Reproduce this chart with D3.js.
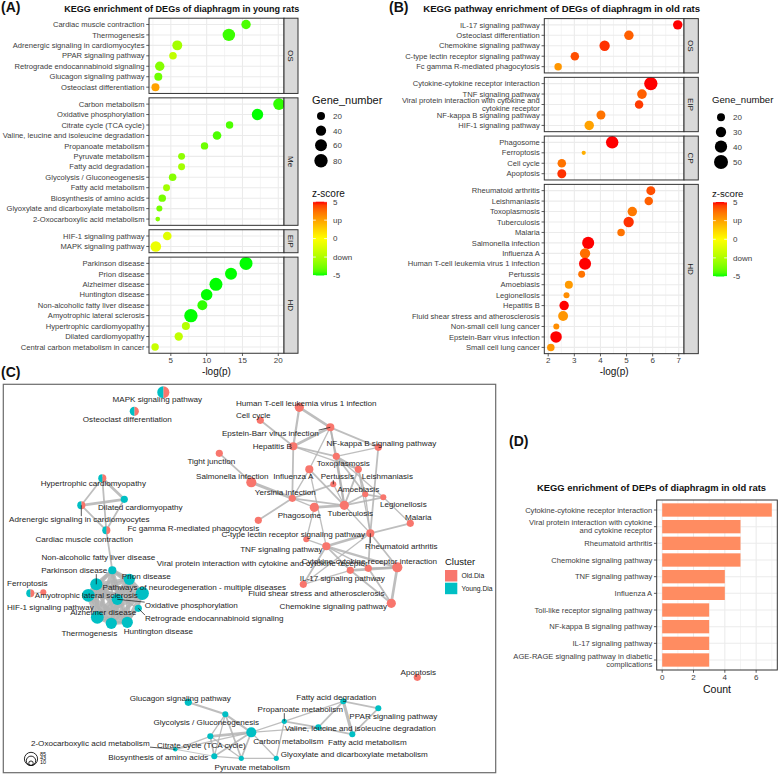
<!DOCTYPE html>
<html>
<head>
<meta charset="utf-8">
<script src="https://cdn.jsdelivr.net/npm/d3@7/dist/d3.min.js"></script>
<style>
html,body{margin:0;padding:0;background:#fff;}
svg{display:block;}
text{font-family:"Liberation Sans",Arial,Helvetica,sans-serif;}
</style>
</head>
<body>
<svg id="fig" width="778" height="775"></svg>
<script>
// ================= DATA =================
// ---- Panel A : young rats ----
const aTerms = [
 "Cardiac muscle contraction","Thermogenesis","Adrenergic signaling in cardiomyocytes","PPAR signaling pathway","Retrograde endocannabinoid signaling","Glucagon signaling pathway","Osteoclast differentiation",
 "Carbon metabolism","Oxidative phosphorylation","Citrate cycle (TCA cycle)","Valine, leucine and isoleucine degradation","Propanoate metabolism","Pyruvate metabolism","Fatty acid degradation","Glycolysis / Gluconeogenesis","Fatty acid metabolism","Biosynthesis of amino acids","Glyoxylate and dicarboxylate metabolism","2-Oxocarboxylic acid metabolism",
 "HIF-1 signaling pathway","MAPK signaling pathway",
 "Parkinson disease","Prion disease","Alzheimer disease","Huntington disease","Non-alcoholic fatty liver disease","Amyotrophic lateral sclerosis","Hypertrophic cardiomyopathy","Dilated cardiomyopathy","Central carbon metabolism in cancer"];
const aFacet = ["OS","OS","OS","OS","OS","OS","OS",
 "Me","Me","Me","Me","Me","Me","Me","Me","Me","Me","Me","Me",
 "EIP","EIP",
 "HD","HD","HD","HD","HD","HD","HD","HD","HD"];
const aLogP = [15.5,13.1,5.9,5.3,3.45,3.25,2.85, 20.1,17.1,13.2,11.45,9.7,6.5,6.5,5.25,4.4,3.8,3.4,3.17, 4.5,2.9, 15.5,13.4,11.3,10.0,9.4,7.8,7.1,6.1,2.8];
const aGenes = [32,66,37,17,32,20,20, 55,53,16,25,16,13,13,17,13,16,8,3, 25,44, 74,61,74,55,37,80,20,23,16];
const aZ = [-4.5,-4.7,-2.8,-2.0,-3.5,-4.0,2.5, -4.8,-5,-4.5,-4.5,-4.0,-3.3,-2.8,-3.5,-2.8,-3.8,-3.8,-3.5, -1.0,-0.6, -5,-5,-5,-5,-4.8,-5,-2.3,-2.0,-1.8];
const aFacetOrder = ["OS","Me","EIP","HD"];
const aXTicks = [5,10,15,20];
const aSizeBreaks = [20,40,60,80];

// ---- Panel B : old rats ----
const bTerms = [
 "IL-17 signaling pathway","Osteoclast differentiation","Chemokine signaling pathway","C-type lectin receptor signaling pathway","Fc gamma R-mediated phagocytosis",
 "Cytokine-cytokine receptor interaction","TNF signaling pathway","Viral protein interaction with cytokine and\ncytokine receptor","NF-kappa B signaling pathway","HIF-1 signaling pathway",
 "Phagosome","Ferroptosis","Cell cycle","Apoptosis",
 "Rheumatoid arthritis","Leishmaniasis","Toxoplasmosis","Tuberculosis","Malaria","Salmonella infection","Influenza A","Human T-cell leukemia virus 1 infection","Pertussis","Amoebiasis","Legionellosis","Hepatitis B","Fluid shear stress and atherosclerosis","Non-small cell lung cancer","Epstein-Barr virus infection","Small cell lung cancer"];
const bFacet = ["OS","OS","OS","OS","OS",
 "EIP","EIP","EIP","EIP","EIP",
 "CP","CP","CP","CP",
 "HD","HD","HD","HD","HD","HD","HD","HD","HD","HD","HD","HD","HD","HD","HD","HD"];
const bLogP = [6.96,5.09,4.16,3.02,2.38, 5.93,5.59,5.48,4.02,3.57, 4.45,3.36,2.52,2.52, 5.93,5.85,5.22,5.08,4.79,3.53,3.41,3.41,3.28,2.79,2.70,2.61,2.57,2.31,2.30,2.10];
const bGenes = [26,26,30,22,18, 46,27,22,24,26, 41,8,22,24, 24,22,26,30,18,39,30,39,16,20,13,26,28,13,36,18];
const bZ = [5,4,4.7,4.3,2.8, 5,4,4.6,3.6,2.5, 5,2.2,3.6,4.7, 4.3,4,3.5,4.7,3.6,5,3.7,5,3.6,2.7,3,5,2.8,3,5,2.8];
const bFacetOrder = ["OS","EIP","CP","HD"];
const bXTicks = [2,3,4,5,6,7];
const bSizeBreaks = [20,30,40,50];

const zBreaks = [5,2.5,0,-2.5,-5];
const zLabels = ["5","up","0","down","-5"];

// ---- Panel C : network ----
const netIds = ["HTLV","CellC","EBV","HepB","NFkB","Tight","Toxo","Salm","Flu","Pert","Leish","Yers","Amoeb","Legion","Phago","TB","Malaria","FcG","CType","RA","TNF","Viral","Fluid","Cyto","IL17","Chemo","Apop",
 "MAPK","Osteo","HCM","DCM","Adren","Cardiac","NAFLD","PD","Prion","Neuro","ALS","Ferro","HIF","AD","OxPhos","Retro","Thermo","HD",
 "Glucagon","Glyco","Carbon","TCA","Oxo","Biosyn","Pyruv","Glyox","Propan","Valine","FADeg","PPAR","FAMet"];
const netNames = ["Human T-cell leukemia virus 1 infection","Cell cycle","Epstein-Barr virus infection","Hepatitis B","NF-kappa B signaling pathway","Tight junction","Toxoplasmosis","Salmonella infection","Influenza A","Pertussis","Leishmaniasis","Yersinia infection","Amoebiasis","Legionellosis","Phagosome","Tuberculosis","Malaria","Fc gamma R-mediated phagocytosis","C-type lectin receptor signaling pathway","Rheumatoid arthritis","TNF signaling pathway","Viral protein interaction with cytokine and cytokine receptor","Fluid shear stress and atherosclerosis","Cytokine-cytokine receptor interaction","IL-17 signaling pathway","Chemokine signaling pathway","Apoptosis",
 "MAPK signaling pathway","Osteoclast differentiation","Hypertrophic cardiomyopathy","Dilated cardiomyopathy","Adrenergic signaling in cardiomyocytes","Cardiac muscle contraction","Non-alcoholic fatty liver disease","Parkinson disease","Prion disease","Pathways of neurodegeneration - multiple diseases","Amyotrophic lateral sclerosis","Ferroptosis","HIF-1 signaling pathway","Alzheimer disease","Oxidative phosphorylation","Retrograde endocannabinoid signaling","Thermogenesis","Huntington disease",
 "Glucagon signaling pathway","Glycolysis / Gluconeogenesis","Carbon metabolism","Citrate cycle (TCA cycle)","2-Oxocarboxylic acid metabolism","Biosynthesis of amino acids","Pyruvate metabolism","Glyoxylate and dicarboxylate metabolism","Propanoate metabolism","Valine, leucine and isoleucine degradation","Fatty acid degradation","PPAR signaling pathway","Fatty acid metabolism"];
// layout coordinates of the network (force layout output, panel units)
const netX = [296,257,327,290,375,216,333,248,306,330,355,289,362,380,311,341,407,255,303,367,323,347,365,394,300,388,414,
 160,131,99,121,78,103,109,93,126,139,85,40,27,94,114,135,108,124,
 185,222,248,207,172,211,238,273,281,315,340,375,349];
const netY = [23,36,43,62,63,69,72,98,85,100,85,114,110,113,123,121,139,136,155,149,162,186,184,183,200,219,293,
 8,27,94,115,121,146,186,200,195,209,211,208,209,233,215,224,239,238,
 318,330,348,352,365,372,374,374,337,343,317,324,350];
const netGenes = [41,25,32,32,25,25,25,50,32,18,25,25,18,18,41,41,25,25,18,32,32,25,25,50,25,41,25,
 72,41,32,25,32,32,32,72,61,85,80,18,32,80,61,25,61,61,
 25,18,50,18,10,18,13,13,13,18,18,18,18];
const netCluster = ["O","O","O","O","O","O","O","O","O","O","O","O","O","O","O","O","O","O","O","O","O","O","O","O","O","O","O",
 "B","B","B","Y","B","B","Y","Y","Y","Y","Y","O","B","Y","Y","Y","Y","Y",
 "Y","Y","Y","Y","Y","Y","Y","Y","Y","Y","Y","Y","Y"];
const netLabelX = [303,250,267,269,378,208,340,229,290,334,384,282,355,400,296,347,415,190,290,398,278,259,313,366,339,330,415,
 154,124,90,137,76,81,95,71,143,191,83,24,47,100,188,211,86,155,
 177,203,285,198,87,155,249,351,297,357,333,390,364];
const netLabelY = [19,31,49,62,59,77,79,92,92,92,92,108,105,120,131,129,133,144,150,162,165,179,209,177,194,222,288,
 15,35,99,123,135,155,173,186,192,203,211,199,223,228,221,234,249,247,
 314,338,357,361,359,373,383,370,325,344,313,332,358];
const netLeaders = ["EBV","Pert","RA","Adren","PD","OxPhos","Retro","Oxo","Propan"];
const netEdges = [
 ["HTLV","EBV",3],["HTLV","HepB",2.5],["CellC","HepB",2],["EBV","HepB",3],["EBV","NFkB",2],["EBV","Toxo",2],["EBV","TB",2],["EBV","Flu",1.5],
 ["HepB","Yers",2],["HepB","Toxo",2],["HepB","Leish",1.5],["NFkB","RA",2],["NFkB","Toxo",1.5],["Tight","Salm",2],["Salm","Yers",3.5],
 ["Yers","FcG",2],["Yers","Pert",2],["Yers","TB",2],["Yers","Flu",1.5],["Flu","TB",2],["Flu","TNF",1.5],["Pert","TB",1.5],
 ["Toxo","Leish",2],["Toxo","Amoeb",2],["Toxo","TB",2.5],["Toxo","Legion",1.5],["Leish","Amoeb",2],["Leish","TB",2],["Leish","RA",1.5],
 ["Amoeb","TB",2],["Amoeb","Legion",2],["TB","Legion",2],["TB","Phago",3],["Phago","Yers",1.5],["Legion","Malaria",1.5],["Malaria","RA",2],
 ["Phago","CType",1.5],["CType","TNF",1.5],["TNF","RA",3],["TNF","Cyto",2.5],["TNF","IL17",2],["TNF","Viral",2],["TNF","Fluid",1.5],
 ["RA","Cyto",2],["RA","Fluid",2],["RA","IL17",1.5],["RA","TB",1.5],["Cyto","Viral",3],["Cyto","Fluid",2],["Cyto","Chemo",3],
 ["Viral","Chemo",2],["Viral","IL17",1.5],["Fluid","Chemo",2],["Amoeb","RA",1.5],
 ["HCM","DCM",3],["HCM","Adren",2],["Adren","DCM",3],["HCM","Cardiac",2],["Adren","Cardiac",2],["DCM","Cardiac",2],["Cardiac","NAFLD",2],
 ["NAFLD","PD",4],["NAFLD","Prion",4],["NAFLD","Neuro",4],["NAFLD","ALS",4],["NAFLD","AD",4],["NAFLD","HD",4],["NAFLD","OxPhos",3],["NAFLD","Thermo",3],
 ["PD","Prion",4],["PD","Neuro",5],["PD","ALS",5],["PD","AD",5],["PD","HD",5],["PD","OxPhos",4],["PD","Thermo",4],["PD","Retro",2],
 ["Prion","Neuro",5],["Prion","ALS",4],["Prion","AD",5],["Prion","HD",5],["Prion","OxPhos",3],["Prion","Thermo",3],
 ["Neuro","ALS",5],["Neuro","AD",5],["Neuro","HD",5],["Neuro","OxPhos",4],["Neuro","Thermo",4],["Neuro","Retro",2],
 ["ALS","AD",5],["ALS","HD",5],["ALS","OxPhos",3],["ALS","Thermo",4],["AD","HD",5],["AD","OxPhos",4],["AD","Thermo",4],
 ["HD","OxPhos",4],["HD","Thermo",4],["OxPhos","Thermo",4],["HD","Retro",2],["Ferro","HIF",1],
 ["Glucagon","Glyco",2.5],["Glyco","Carbon",2.5],["Glyco","TCA",1.5],["Glyco","Pyruv",2],["Glyco","Biosyn",1.5],["TCA","Carbon",3],["TCA","Biosyn",2],
 ["TCA","Pyruv",1.5],["TCA","Oxo",1.5],["Carbon","Biosyn",2],["Carbon","Pyruv",2],["Carbon","Propan",1.5],["Carbon","Valine",1.5],["Carbon","Glyox",1.5],
 ["Carbon","Oxo",1.5],["Pyruv","Glyox",1.5],["Propan","Glyox",1.5],["Propan","Valine",2],["Propan","FADeg",1.5],["Valine","FADeg",2],["Valine","FAMet",2],
 ["FADeg","FAMet",3.5],["FADeg","PPAR",2],["PPAR","FAMet",2],["Biosyn","Pyruv",1.5],["Oxo","Biosyn",1]];
const netSizeBreaks = [85,43,10];
const clusterNames = ["Old.Dia","Young.Dia"];

// ---- Panel D ----
const dTerms = ["Cytokine-cytokine receptor interaction","Viral protein interaction with cytokine\nand cytokine receptor","Rheumatoid arthritis","Chemokine signaling pathway","TNF signaling pathway","Influenza A","Toll-like receptor signaling pathway","NF-kappa B signaling pathway","IL-17 signaling pathway","AGE-RAGE signaling pathway in diabetic\ncomplications"];
const dCounts = [7,5,5,5,4,4,3,3,3,3];
const dXTicks = [0,2,4,6];

// ================= DRAWING =================
const svg = d3.select("#fig");
const GRID = "#ebebeb", BORDER = "#333333", STRIP = "#d9d9d9", AXTXT = "#3d3d3d";
const OLD = "#F8766D", YOUNG = "#00BFC4";
const zColor = d3.scaleLinear().domain([-5,0,5]).range(["#00ff00","#ffff00","#ff0000"]).interpolate(d3.interpolateLab).clamp(true);

function multiText(sel, str, x, y, lh, anchor, size, fill) {
  const lines = str.split("\n");
  const t = sel.append("text").attr("text-anchor", anchor).attr("font-size", size).attr("fill", fill);
  lines.forEach((ln,i) => t.append("tspan").attr("x", x).attr("y", y + (i - (lines.length-1)/2)*lh).attr("dy","0.35em").text(ln));
  return t;
}

function bubblePanel(o) {
  const g = svg.append("g");
  const x = d3.scaleLinear().domain(o.xDomain).range([o.left, o.right]);
  const r = d3.scaleSqrt().domain(o.sizeDomain).range(o.sizeRange);
  let top = o.top;
  o.facets.forEach(f => {
    const idx = d3.range(o.terms.length).filter(i => o.facet[i] === f);
    const terms = idx.map(i => o.terms[i]);
    const h = (terms.length + 0.2) * o.unit;
    const y = d3.scalePoint().domain(terms).range([top + 0.6*o.unit, top + h - 0.6*o.unit]);
    g.append("rect").attr("x", o.left).attr("y", top).attr("width", o.right-o.left).attr("height", h).attr("fill","#fff");
    o.minor.forEach(v => g.append("line").attr("x1", x(v)).attr("x2", x(v)).attr("y1", top).attr("y2", top+h).attr("stroke", GRID).attr("stroke-width", 0.55));
    o.ticks.forEach(v => g.append("line").attr("x1", x(v)).attr("x2", x(v)).attr("y1", top).attr("y2", top+h).attr("stroke", GRID).attr("stroke-width", 1.07));
    terms.forEach(t => g.append("line").attr("x1", o.left).attr("x2", o.right).attr("y1", y(t)).attr("y2", y(t)).attr("stroke", GRID).attr("stroke-width", 1.07));
    idx.forEach(i => g.append("circle").attr("cx", x(o.logp[i])).attr("cy", y(o.terms[i])).attr("r", r(o.genes[i])).attr("fill", zColor(o.z[i])));
    g.append("rect").attr("x", o.left).attr("y", top).attr("width", o.right-o.left).attr("height", h).attr("fill","none").attr("stroke", BORDER).attr("stroke-width", 1);
    g.append("rect").attr("x", o.right).attr("y", top).attr("width", o.stripW).attr("height", h).attr("fill", STRIP).attr("stroke", BORDER).attr("stroke-width", 1);
    const sx = o.right + o.stripW/2, sy = top + h/2;
    g.append("text").attr("transform", `translate(${sx},${sy}) rotate(90)`).attr("text-anchor","middle").attr("dy","0.35em").attr("font-size", 8).attr("fill","#1a1a1a").text(f);
    terms.forEach(t => {
      g.append("line").attr("x1", o.left-2.75).attr("x2", o.left).attr("y1", y(t)).attr("y2", y(t)).attr("stroke", BORDER).attr("stroke-width", 0.8);
      multiText(g, t, o.left-4.5, y(t), 8.2, "end", 7.6, AXTXT);
    });
    top += h + o.gap;
  });
  const bottom = top - o.gap;
  o.ticks.forEach(v => {
    g.append("line").attr("x1", x(v)).attr("x2", x(v)).attr("y1", bottom).attr("y2", bottom+2.75).attr("stroke", BORDER).attr("stroke-width", 0.8);
    g.append("text").attr("x", x(v)).attr("y", bottom+9.5).attr("text-anchor","middle").attr("font-size", 8).attr("fill", AXTXT).text(v);
  });
  g.append("text").attr("x", (o.left+o.right)/2).attr("y", bottom+21.5).attr("text-anchor","middle").attr("font-size", 10).attr("fill","#111").text("-log(p)");
  // size legend
  g.append("text").attr("x", o.legX).attr("y", o.sizeTitleY).attr("font-size", o.legTitleSize).attr("fill","#111").text("Gene_number");
  o.sizeBreaks.forEach((b,i) => {
    const cy = o.sizeY[i];
    g.append("circle").attr("cx", o.legX+9).attr("cy", cy).attr("r", r(b)).attr("fill","#000");
    g.append("text").attr("x", o.legX+21).attr("y", cy).attr("dy","0.35em").attr("font-size", 8).attr("fill", AXTXT).text(b);
  });
  // colour legend
  g.append("text").attr("x", o.legX).attr("y", o.zTitleY).attr("font-size", o.zTitleSize).attr("fill","#111").text("z-score");
  const gid = "grad" + o.id;
  const grad = svg.append("defs").append("linearGradient").attr("id", gid).attr("x1",0).attr("x2",0).attr("y1",0).attr("y2",1);
  d3.range(0, 21).forEach(k => { const z = 5 - k*0.5; grad.append("stop").attr("offset", (k/20)).attr("stop-color", zColor(z)); });
  const bar = d3.scaleLinear().domain([5,-5]).range([o.barTop, o.barBottom]);
  g.append("rect").attr("x", o.legX+1).attr("y", o.barTop).attr("width", 14).attr("height", o.barBottom-o.barTop).attr("fill", `url(#${gid})`);
  zBreaks.forEach((b,i) => {
    g.append("line").attr("x1", o.legX+1).attr("x2", o.legX+3.8).attr("y1", bar(b)).attr("y2", bar(b)).attr("stroke","#fff").attr("stroke-width",0.8);
    g.append("line").attr("x1", o.legX+12.2).attr("x2", o.legX+15).attr("y1", bar(b)).attr("y2", bar(b)).attr("stroke","#fff").attr("stroke-width",0.8);
    g.append("text").attr("x", o.legX+21).attr("y", bar(b)).attr("dy","0.35em").attr("font-size", 8).attr("fill", AXTXT).text(zLabels[i]);
  });
}

// titles
function bold(x, y, txt, size, anchor, len) {
  const t = svg.append("text").attr("x", x).attr("y", y).attr("font-size", size).attr("font-weight","bold").attr("fill","#111").attr("text-anchor", anchor).text(txt);
  if (len) t.attr("textLength", len).attr("lengthAdjust","spacingAndGlyphs");
  return t;
}
bold(1, 12, "(A)", 14, "start");
bold(181.7, 12, "KEGG enrichment of DEGs of diaphragm in young rats", 9.2, "middle", 235);
bold(389, 12, "(B)", 14, "start");
bold(561.7, 12, "KEGG pathway enrichment of DEGs of diaphragm in old rats", 9.2, "middle", 277);
bold(1, 377, "(C)", 14, "start");
bold(509, 446, "(D)", 14, "start");
bold(651.5, 491, "KEGG enrichment of DEPs of diaphragm in old rats", 9.0, "middle", 229);

bubblePanel({id:"A", terms:aTerms, facet:aFacet, logp:aLogP, genes:aGenes, z:aZ, facets:aFacetOrder,
  left:149, right:284, stripW:14, top:18.2, unit:10.45, gap:4.4,
  xDomain:[1.95,20.8], ticks:aXTicks, minor:[2.5,7.5,12.5,17.5],
  sizeDomain:[20,80], sizeRange:[4,6.7], sizeBreaks:aSizeBreaks,
  legX:312, sizeTitleY:104, legTitleSize:11, sizeY:[116,130.7,145.3,160.7],
  zTitleY:197, zTitleSize:10, barTop:201.7, barBottom:275.5});
bubblePanel({id:"B", terms:bTerms, facet:bFacet, logp:bLogP, genes:bGenes, z:bZ, facets:bFacetOrder,
  left:544.3, right:684, stripW:14.3, top:18.6, unit:10.45, gap:4.4,
  xDomain:[1.85,7.2], ticks:bXTicks, minor:[2.5,3.5,4.5,5.5,6.5],
  sizeDomain:[20,50], sizeRange:[4,7], sizeBreaks:bSizeBreaks,
  legX:712, sizeTitleY:103, legTitleSize:9.6, sizeY:[117.3,132,146.7,162],
  zTitleY:197, zTitleSize:9.6, barTop:202, barBottom:276.5});

// ---- Panel C network ----
(function(){
  const C = {x0:3.3, y0:384.3, x1:495.7, y1:772.7};
  const g = svg.append("g");
  g.append("rect").attr("x",C.x0).attr("y",C.y0).attr("width",C.x1-C.x0).attr("height",C.y1-C.y0).attr("fill","#fff").attr("stroke","#6b6b6b").attr("stroke-width",1.2);
  const nx = d3.scaleLinear().domain([0,492.4]).range([C.x0, C.x1]);
  const ny = d3.scaleLinear().domain([0,388.4]).range([C.y0, C.y1]);
  const nr = d3.scaleSqrt().domain([0,85]).range([0,6.6]);
  const pos = {};
  netIds.forEach((id,i) => pos[id] = {x:nx(netX[i]), y:ny(netY[i]), r:nr(netGenes[i]), i:i});
  const eg = g.append("g");
  netEdges.forEach(e => {
    const a = pos[e[0]], b = pos[e[1]];
    eg.append("line").attr("x1",a.x).attr("y1",a.y).attr("x2",b.x).attr("y2",b.y).attr("stroke","#b3b3b3").attr("stroke-opacity",0.85).attr("stroke-width",e[2]*0.9).attr("stroke-linecap","round");
  });
  const ng = g.append("g");
  const arc = d3.arc().innerRadius(0);
  netIds.forEach((id,i) => {
    const p = pos[id];
    if (netCluster[i] === "B") {
      ng.append("path").attr("transform",`translate(${p.x},${p.y})`).attr("d", arc({outerRadius:p.r, startAngle:0, endAngle:Math.PI})).attr("fill", OLD);
      ng.append("path").attr("transform",`translate(${p.x},${p.y})`).attr("d", arc({outerRadius:p.r, startAngle:Math.PI, endAngle:2*Math.PI})).attr("fill", YOUNG);
    } else {
      ng.append("circle").attr("cx",p.x).attr("cy",p.y).attr("r",p.r).attr("fill", netCluster[i]==="O" ? OLD : YOUNG);
    }
  });
  const lg = g.append("g");
  const leadG = g.append("g");
  netIds.forEach((id,i) => {
    const t = lg.append("text").attr("x", nx(netLabelX[i])).attr("y", ny(netLabelY[i])).attr("dy","0.35em").attr("text-anchor","middle").attr("font-size",8.1).attr("fill","#1e1e1e").text(netNames[i]);
    if (netLeaders.includes(id)) {
      const bb = t.node().getBBox(), p = pos[id];
      const px = Math.max(bb.x, Math.min(p.x, bb.x+bb.width));
      const py = Math.max(bb.y+1, Math.min(p.y, bb.y+bb.height-1));
      leadG.append("line").attr("x1",p.x).attr("y1",p.y).attr("x2",px).attr("y2",py).attr("stroke","#111").attr("stroke-width",0.7);
    }
  });
  // cluster legend
  g.append("text").attr("x",445).attr("y",565).attr("font-size",9.5).attr("fill","#111").text("Cluster");
  [OLD, YOUNG].forEach((c,k) => {
    g.append("rect").attr("x",445).attr("y",570+k*12.7).attr("width",12.3).attr("height",11.5).attr("fill",c);
    g.append("text").attr("x",461.5).attr("y",576+k*12.9).attr("dy","0.35em").attr("font-size",6.8).attr("fill","#222").text(clusterNames[k]);
  });
  // node size legend
  const base = 765.5;
  netSizeBreaks.forEach((b,k) => {
    const rr = nr(b);
    g.append("circle").attr("cx",31).attr("cy",base-rr).attr("r",rr).attr("fill","none").attr("stroke","#111").attr("stroke-width",0.9);
    g.append("text").attr("x",40).attr("y",base-2*rr+1.5).attr("dy","0.35em").attr("font-size",5.5).attr("fill","#111").text(b);
  });
})();

// ---- Panel D bar chart ----
(function(){
  const g = svg.append("g");
  const L = 656.7, R = 777.3, T = 500, B = 670;
  const x = d3.scaleLinear().domain([-0.35,7.35]).range([L,R]);
  const y = d3.scaleBand().domain(dTerms).range([T,B]).paddingInner(0.2).paddingOuter(0.2);
  g.append("rect").attr("x",L).attr("y",T).attr("width",R-L).attr("height",B-T).attr("fill","#fff");
  [1,3,5,7].forEach(v => g.append("line").attr("x1",x(v)).attr("x2",x(v)).attr("y1",T).attr("y2",B).attr("stroke",GRID).attr("stroke-width",0.55));
  dXTicks.forEach(v => g.append("line").attr("x1",x(v)).attr("x2",x(v)).attr("y1",T).attr("y2",B).attr("stroke",GRID).attr("stroke-width",1.07));
  dTerms.forEach(t => g.append("line").attr("x1",L).attr("x2",R).attr("y1",y(t)+y.bandwidth()/2).attr("y2",y(t)+y.bandwidth()/2).attr("stroke",GRID).attr("stroke-width",1.07));
  dTerms.forEach((t,i) => g.append("rect").attr("x",x(0)).attr("y",y(t)).attr("width",x(dCounts[i])-x(0)).attr("height",y.bandwidth()).attr("fill","#FF8C61"));
  g.append("rect").attr("x",L).attr("y",T).attr("width",R-L).attr("height",B-T).attr("fill","none").attr("stroke",BORDER).attr("stroke-width",1);
  dTerms.forEach(t => {
    const cy = y(t)+y.bandwidth()/2;
    g.append("line").attr("x1",L-2.75).attr("x2",L).attr("y1",cy).attr("y2",cy).attr("stroke",BORDER).attr("stroke-width",0.8);
    multiText(g, t, L-4.5, cy, 8.2, "end", 7.6, AXTXT);
  });
  dXTicks.forEach(v => {
    g.append("line").attr("x1",x(v)).attr("x2",x(v)).attr("y1",B).attr("y2",B+2.75).attr("stroke",BORDER).attr("stroke-width",0.8);
    g.append("text").attr("x",x(v)).attr("y",B+9.5).attr("text-anchor","middle").attr("font-size",8).attr("fill",AXTXT).text(v);
  });
  g.append("text").attr("x",(L+R)/2).attr("y",B+23).attr("text-anchor","middle").attr("font-size",10.5).attr("fill","#111").text("Count");
})();
</script>
</body>
</html>
